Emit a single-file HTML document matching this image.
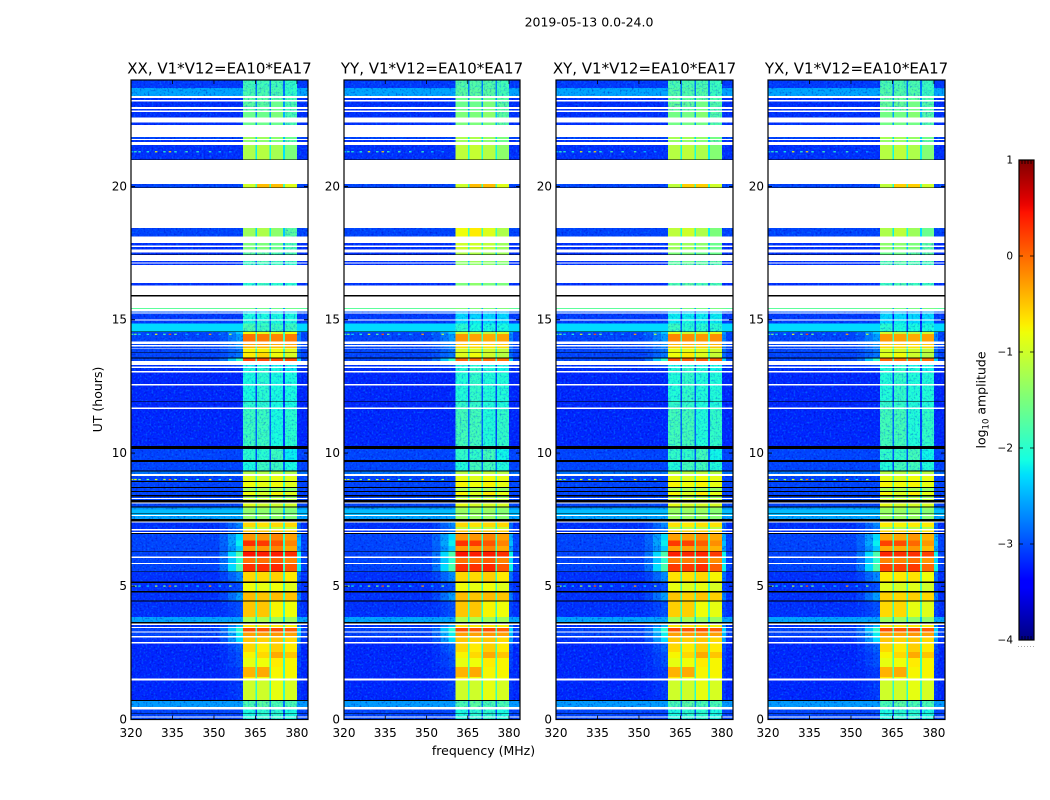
<!DOCTYPE html>
<html lang="en">
<head>
<meta charset="utf-8">
<title>2019-05-13 0.0-24.0</title>
<style>
html,body{margin:0;padding:0;background:#fff;}
#chart{display:block;width:1050px;height:800px;background:#fff;}
text{font-family:"DejaVu Sans","Liberation Sans",sans-serif;fill:#000;}
</style>
</head>
<body>
<svg id="chart" xmlns="http://www.w3.org/2000/svg" width="1050" height="800" viewBox="0 0 1050 800">
  <defs>
    <filter id="speck-light" x="0" y="0" width="100%" height="100%" color-interpolation-filters="sRGB">
      <feTurbulence type="fractalNoise" baseFrequency="0.5" numOctaves="2" seed="4"/>
      <feColorMatrix type="matrix" values="0 0 0 0 0  0 0 0 0 0.55  0 0 0 0 1  3.2 0 0 0 -1.6"/>
    </filter>
    <filter id="speck-dark" x="0" y="0" width="100%" height="100%" color-interpolation-filters="sRGB">
      <feTurbulence type="fractalNoise" baseFrequency="0.5" numOctaves="2" seed="11"/>
      <feColorMatrix type="matrix" values="0 0 0 0 0  0 0 0 0 0  0 0 0 0 0.7  0 3.2 0 0 -1.7"/>
    </filter>
    <linearGradient id="colorbar-gradient" x1="0" y1="1" x2="0" y2="0"></linearGradient>
  </defs>
  <text x="589" y="26.5" font-size="12.5" text-anchor="middle">2019-05-13 0.0-24.0</text>
  <text x="483.5" y="755" font-size="12.5" text-anchor="middle">frequency (MHz)</text>
  <text x="102" y="399.5" font-size="12.5" text-anchor="middle" transform="rotate(-90 102 399.5)">UT (hours)</text>
  <text x="985.5" y="400" font-size="12.5" text-anchor="middle" transform="rotate(-90 985.5 400)">log<tspan font-size="8.5" dy="3">10</tspan><tspan dy="-3"> amplitude</tspan></text>
  <g id="panels"></g>
  <g id="colorbar"></g>
</svg>
<script>
/* ---------- chart data ---------- */
const panelTitles = ["XX, V1*V12=EA10*EA17", "YY, V1*V12=EA10*EA17", "XY, V1*V12=EA10*EA17", "YX, V1*V12=EA10*EA17"];
const xTicks = [320, 335, 350, 365, 380];
const yTicks = [0, 5, 10, 15, 20];
const colorTicks = [1, 0, -1, -2, -3, -4];
const colorMinorTicks = [0.2, 0.4, 0.6, 0.8];

const bandStartMHz = [360.5, 365.6, 370.6, 375.6];
const bandEndMHz = [365.0, 370.0, 375.0, 380.0];
const shoulderStartsMHz = [352, 355, 358];
const shoulderWeights = [0.2, 0.6, 1];
const shoulderAfterMHz = 381.5;
const freqMin = 320;
const freqMax = 384;
const utMin = 0;
const utMax = 24;
const levelMin = -4;
const levelMax = 1;

const W = null;  /* flagged: no data (white) */
const K = -9;    /* below scale (black) */

/* top edge (UT hours) of each time row, descending */
const rowTopUT = [
24.00,23.70,23.40,23.32,23.25,23.19,22.98,22.92,22.85,22.80,22.60,22.40,22.32,21.87,21.79,21.75,21.67,21.56,21.02,21.00,
20.10,19.97,19.95,18.45,18.13,17.88,17.78,17.73,17.63,17.53,17.45,17.43,17.21,17.16,17.12,17.06,16.38,16.28,15.93,15.87,
15.44,15.41,15.31,15.27,15.24,15.02,14.97,14.87,14.56,14.54,14.47,14.18,14.10,14.05,14.00,13.95,13.92,13.78,13.75,13.59,
13.55,13.45,13.30,13.24,13.19,13.08,13.03,12.59,12.54,11.95,11.93,11.70,11.65,10.26,10.15,9.74,9.66,9.34,9.31,9.22,
9.14,8.95,8.91,8.73,8.69,8.58,8.54,8.43,8.37,8.31,8.28,8.24,8.14,8.10,8.00,7.96,7.89,7.74,7.71,7.68,
7.63,7.52,7.44,7.39,7.23,7.14,7.09,7.04,7.00,6.96,6.71,6.51,6.33,6.30,6.11,6.06,5.88,5.84,5.56,5.53,
5.17,5.13,4.82,4.77,4.46,4.42,3.84,3.66,3.61,3.55,3.48,3.44,3.31,3.27,3.13,3.08,2.91,2.86,2.53,2.31,
1.97,1.60,1.53,1.46,0.73,0.69,0.46,0.38,0.23,0.21,0.11,0.07
];

/* per-row log10 amplitude: [background, shoulder, sub-band 1..4] */
const rowLevels = [
[-3.1,-3.1,-1.85,-1.85,-1.85,-1.95],[-2.55,-2.55,-1.8,-1.8,-1.8,-1.95],W,[-3.15,-3.15,-1.7,-1.7,-1.7,-1.8],W,[-3.15,-3.15,-1.7,-1.7,-1.6,-1.8],W,[-3.15,-3.15,-1.7,-1.7,-1.6,-1.8],W,[-3.15,-3.15,-1.6,-1.6,-1.5,-1.8],W,[-3.15,-3.15,-1.6,-1.6,-1.6,-1.8],W,[-3.05,-3.05,-1.3,-1.3,-1.4,-1.6],W,[-3.15,-3.15,-1.4,-1.4,-1.5,-1.7],W,[-3.15,-3.15,-1.2,-1.15,-1.25,-1.5],K,W,
[-3.05,-3.05,-1.0,-0.45,-0.45,-0.9],K,W,[-3.05,-3.05,-1.3,-1.2,-1.4,-1.7],W,[-3.15,-3.15,-1.5,-1.5,-1.6,-1.8],W,[-3.15,-3.15,-1.5,-1.5,-1.6,-1.8],W,[-3.15,-3.15,-1.7,-1.7,-1.8,-1.8],K,W,[-3.15,-3.15,-1.9,-1.8,-1.9,-1.9],W,[-3.15,-3.15,-1.9,-1.9,-1.9,-2.0],W,[-3.15,-3.15,-2.0,-1.9,-2.0,-2.0],W,K,W,
[-1.7,-1.6,-1.6,-1.6,-1.6,-1.6],W,[-2.95,-2.95,-2.3,-2.3,-2.3,-2.3],W,[-3.1,-3.1,-2.1,-2.1,-2.1,-2.1],W,[-3.1,-3.1,-2.1,-2.0,-2.1,-2.1],[-2.3,-2.3,-1.8,-1.9,-1.9,-1.9],K,[-3.05,-2.4,-0.8,-0.9,-0.9,-0.8],[-3.05,-2.6,-0.05,-0.1,-0.15,-0.1],W,[-3.05,-2.7,-0.3,-0.3,-0.35,-0.3],W,[-3.05,-2.7,-0.4,-0.4,-0.45,-0.4],W,[-3.05,-2.8,-0.75,-0.75,-0.8,-0.9],K,[-3.05,-2.8,-0.7,-0.6,-0.8,-0.95],K,
[-3.05,-2.0,0.2,0.15,0.15,0.15],W,[-3.15,-3.0,-2.2,-2.1,-2.2,-2.2],W,[-3.15,-3.15,-2.1,-2.0,-2.1,-2.2],W,[-3.2,-3.2,-2.1,-2.0,-2.1,-2.1],W,[-3.2,-3.2,-2.1,-2.0,-2.1,-2.1],K,[-3.2,-3.2,-2.0,-2.0,-2.1,-2.1],W,[-3.2,-3.2,-1.9,-1.9,-2.1,-2.0],K,[-3.05,-3.05,-2.0,-2.0,-1.9,-2.2],K,[-3.05,-3.05,-2.1,-1.9,-1.9,-2.1],K,[-2.8,-2.8,-1.2,-1.2,-1.15,-1.2],W,
[-3.05,-3.05,-0.9,-0.95,-0.85,-0.9],K,[-3.05,-3.05,-0.8,-0.85,-0.8,-0.9],K,[-3.05,-3.05,-1.3,-1.3,-1.3,-1.4],K,[-3.05,-3.05,-0.8,-0.95,-0.75,-0.9],K,[-3.05,-3.05,-1.3,-1.3,-1.3,-1.4],W,[-3.05,-3.05,-1.0,-1.0,-1.0,-1.1],K,W,[-3.05,-3.05,-0.9,-1.0,-1.0,-1.0],K,[-2.6,-2.6,-1.3,-1.3,-1.3,-1.4],[-2.45,-2.45,-1.4,-1.4,-1.4,-1.5],K,[-2.45,-2.45,-1.4,-1.4,-1.4,-1.5],W,
[-2.55,-2.55,-1.4,-1.4,-1.4,-1.5],K,W,[-3.15,-2.7,-0.6,-0.65,-0.6,-0.6],[-3.15,-2.8,-1.1,-1.1,-1.1,-1.1],W,[-3.15,-2.8,-0.5,-0.5,-0.5,-0.55],W,K,[-3.05,-2.3,-0.25,-0.25,-0.15,-0.3],[-3.05,-2.2,0.3,0.25,0.1,-0.15],[-3.05,-2.4,-0.25,-0.25,-0.15,-0.35],K,[-3.05,-1.8,0.45,0.4,0.4,0.3],W,[-3.05,-2.0,-0.05,-0.05,0.05,-0.15],W,[-3.05,-1.8,0.3,0.3,0.35,0.1],K,[-3.15,-2.7,-0.6,-0.6,-0.55,-0.7],
K,[-3.15,-3.0,-0.8,-0.85,-0.8,-0.9],K,[-3.15,-2.6,-0.45,-0.5,-0.45,-0.5],K,[-3.15,-3.0,-0.5,-0.5,-0.75,-0.8],[-2.55,-2.55,-1.2,-1.2,-1.3,-1.3],K,W,[-3.15,-2.5,-0.7,-0.7,-0.7,-0.75],W,[-3.05,-2.0,0.15,0.1,0.15,0.05],W,[-3.05,-2.2,-0.3,-0.3,-0.25,-0.3],W,[-3.15,-2.3,-0.5,-0.55,-0.5,-0.6],W,[-3.2,-2.9,-0.6,-0.7,-0.55,-0.7],[-3.2,-3.0,-0.75,-0.6,-0.35,-0.5],[-3.2,-3.0,-0.85,-0.8,-0.7,-0.75],
[-3.2,-3.1,-0.4,-0.35,-0.75,-0.75],[-3.2,-3.1,-0.7,-0.8,-0.8,-0.8],W,[-3.2,-3.1,-1.0,-1.0,-0.85,-0.95],K,[-2.6,-2.6,-1.8,-1.7,-1.8,-1.8],W,[-3.05,-3.05,-2.1,-2.0,-2.0,-2.1],K,[-3.05,-3.05,-2.1,-2.0,-2.0,-2.1],W,[-3.05,-3.05,-2.1,-2.0,-2.0,-2.1]
];

/* per-panel band level offsets for time sections */
const sectionTopUT = [24, 21, 18.5, 16, 15.4, 13.4, 7.4, 3.6];
const bandOffsetXX = [0, 0, 0, 0, 0, 0, 0, 0];
const bandOffsetYY = [0.1, 0, 0.5, 0.1, -0.2, 0.05, 0, 0];
const bandOffsetXY = [0.05, -0.1, 0.2, 0.05, -0.1, 0.05, -0.05, 0];
const bandOffsetYX = [0.05, -0.1, 0.1, 0.05, -0.2, 0.05, -0.1, 0];
const panelBandOffsets = [bandOffsetXX, bandOffsetYY, bandOffsetXY, bandOffsetYX];

/* narrow interference spikes */
const spikeUT = [21.31, 14.46, 9.01, 5.01];
const spikeFreqMHz = [320.3, 321.5, 323, 326, 329, 332, 334, 336, 340, 344, 348.5, 352, 355.8];
const spikeLevels = [
[-2.4,-1.9,-2.0,-2.1,-0.8,-2.0,-0.6,-2.0,-1.8,-2.0,-1.9,-2.4,-2.6],
[-1.9,-1.5,-2.3,-2.1,-0.9,-1.8,0.1,-1.6,-2.5,-2.5,-0.3,-2.6,-1.1],
[-1.0,-0.9,-1.5,-1.6,-1.0,-1.3,-0.1,-1.3,-1.9,-2.0,-0.6,-2.4,-1.4],
[-0.9,-1.4,-2.2,-2.4,-1.2,-1.6,0.1,-1.6,-2.4,-2.4,-0.3,-2.4,-1.4]
];

/* ---------- layout ---------- */
const panelLefts = [131, 344, 556, 768];
const panelWidths = [177, 176, 177, 177];
const plotTop = 80;
const plotBottom = 719.5;
const cbLeft = 1019;
const cbRight = 1034;
const cbTop = 160;
const cbBottom = 640;

const SVGNS = "http://www.w3.org/2000/svg";
function make(tag) { return document.createElementNS(SVGNS, tag); }
function setAll(el, props) { for (const k in props) el.setAttribute(k, props[k]); return el; }

function xScale(p, f) { return panelLefts[p] + (f - freqMin) / (freqMax - freqMin) * panelWidths[p]; }
function yScale(u) { return plotBottom - (u - utMin) / (utMax - utMin) * (plotBottom - plotTop); }
function cbScale(v) { return cbBottom - (v - levelMin) / (levelMax - levelMin) * (cbBottom - cbTop); }

function jetChannel(t, a, b, c, d) {
  if (t < a) return 0;
  if (t < b) return (t - a) / (b - a);
  if (t < c) return 1;
  if (t < d) return 1 - (t - c) / (d - c);
  return 0;
}
function jetColor(v) {
  const t = Math.max(0, Math.min(1, (v - levelMin) / (levelMax - levelMin)));
  const r = t > 0.89 ? 1 - (t - 0.89) / 0.11 * 0.5 : jetChannel(t, 0.35, 0.66, 2, 3);
  const g = jetChannel(t, 0.125, 0.375, 0.64, 0.91);
  const b = t < 0.11 ? 0.5 + t / 0.11 * 0.5 : jetChannel(t, -1, 0, 0.34, 0.65);
  return "rgb(" + Math.round(r * 255) + "," + Math.round(g * 255) + "," + Math.round(b * 255) + ")";
}

function sectionIndex(ut) {
  let idx = 0;
  for (let i = 0; i < sectionTopUT.length; i++) if (ut <= sectionTopUT[i]) idx = i;
  return idx;
}

function addCell(parent, clip, limit, p, f0, f1, y0, y1, level) {
  const x0 = xScale(p, f0), x1 = xScale(p, f1);
  const cell = make("rect");
  setAll(cell, { x: x0, y: y0, width: x1 - x0, height: y1 - y0, fill: jetColor(level) });
  
  
  parent.appendChild(cell);
  if (level < limit) {
    const c = make("rect");
    setAll(c, { x: x0, y: y0, width: x1 - x0, height: y1 - y0 });
    clip.appendChild(c);
  }
}

function addNoise(g, p, clipId, lightOpacity, darkOpacity) {
  const noise = make("g");
  
  
  noise.setAttribute('clip-path', 'url(#' + clipId + ')');
  g.appendChild(noise);
  const light = make("rect");
  setAll(light, { x: panelLefts[p], y: plotTop, width: panelWidths[p], height: plotBottom - plotTop, filter: "url(#speck-light)", fill: "#000", opacity: lightOpacity });
  noise.appendChild(light);
  const dark = make("rect");
  setAll(dark, { x: panelLefts[p], y: plotTop, width: panelWidths[p], height: plotBottom - plotTop, filter: "url(#speck-dark)", fill: "#000", opacity: darkOpacity });
  noise.appendChild(dark);
}

function drawPanel(p) {
  const root = document.getElementById("panels");
  const g = make("g");
  
  
  root.appendChild(g);

  const cells = make("g");
  
  
  cells.setAttribute('shape-rendering', 'crispEdges');
  g.appendChild(cells);

  const defs = document.querySelector("defs");
  const clipBg = make("clipPath");
  clipBg.setAttribute("id", "noise-bg-" + p);
  defs.appendChild(clipBg);
  const clipBand = make("clipPath");
  clipBand.setAttribute("id", "noise-band-" + p);
  defs.appendChild(clipBand);

  const flagged = [];
  for (let i = 0; i < rowTopUT.length; i++) {
    const top = rowTopUT[i];
    const bottom = i + 1 < rowTopUT.length ? rowTopUT[i + 1] : utMin;
    const lv = rowLevels[i];
    const y0 = yScale(top), y1 = yScale(bottom);
    if (lv === W || lv === K) { flagged.push([y0, y1, lv]); continue; }
    const off = panelBandOffsets[p][sectionIndex(top)];
    const bg = lv[0], sh = lv[1];
    addCell(cells, clipBg, -2.5, p, freqMin, shoulderStartsMHz[0], y0, y1, bg);
    for (let s = 0; s < shoulderStartsMHz.length; s++) {
      const end = s + 1 < shoulderStartsMHz.length ? shoulderStartsMHz[s + 1] : bandStartMHz[0];
      addCell(cells, clipBg, -2.5, p, shoulderStartsMHz[s], end, y0, y1, bg + shoulderWeights[s] * (sh - bg));
    }
    for (let b = 0; b < bandStartMHz.length; b++) {
      const level = lv[b + 2] + off;
      addCell(cells, clipBand, -1.6, p, bandStartMHz[b], bandEndMHz[b], y0, y1, level);
      if (b < bandStartMHz.length - 1) {
        addCell(cells, clipBand, -2.5, p, bandEndMHz[b], bandStartMHz[b + 1], y0, y1, Math.min(-1.9, level - 1));
      }
    }
    addCell(cells, clipBg, -2.5, p, bandEndMHz[3], shoulderAfterMHz, y0, y1, bg + 0.7 * (sh - bg));
    addCell(cells, clipBg, -2.5, p, shoulderAfterMHz, freqMax, y0, y1, bg);
  }

  addNoise(g, p, "noise-bg-" + p, 0.55, 0.5);
  addNoise(g, p, "noise-band-" + p, 0.5, 0.3);

  for (let s = 0; s < spikeUT.length; s++) {
    for (let f = 0; f < spikeFreqMHz.length; f++) {
      const spike = make("rect");
      setAll(spike, { x: xScale(p, spikeFreqMHz[f]) - 1, y: yScale(spikeUT[s]) - 0.5, width: 2.5, height: 1.2, fill: jetColor(spikeLevels[s][f]) });
      
      
      g.appendChild(spike);
    }
  }

  for (const r of flagged) {
    const gap = make("rect");
    setAll(gap, { x: panelLefts[p], y: r[0], width: panelWidths[p], height: r[1] - r[0], fill: r[2] === W ? "#fff" : "#000", "shape-rendering": "crispEdges" });
    
    
    g.appendChild(gap);
  }

  const frame = make("rect");
  setAll(frame, { x: panelLefts[p], y: plotTop, width: panelWidths[p], height: plotBottom - plotTop, fill: "none", stroke: "#000", "stroke-width": 1.2 });
  
  
  g.appendChild(frame);

  for (const t of xTicks) {
    const x = xScale(p, t);
    const tick = make("path");
    setAll(tick, { d: "M" + x + " " + plotBottom + "v-4M" + x + " " + plotTop + "v4", stroke: "#000", "stroke-width": 0.8, fill: "none" });
    
    
    g.appendChild(tick);
    const lab = make("text");
    setAll(lab, { x: x, y: 737, "font-size": 12, "text-anchor": "middle" });
    lab.textContent = t;
    
    
    g.appendChild(lab);
  }
  for (const t of yTicks) {
    const y = yScale(t);
    const right = panelLefts[p] + panelWidths[p];
    const tick = make("path");
    setAll(tick, { d: "M" + panelLefts[p] + " " + y + "h4M" + right + " " + y + "h-4", stroke: "#000", "stroke-width": 0.8, fill: "none" });
    
    
    g.appendChild(tick);
    const lab = make("text");
    setAll(lab, { x: panelLefts[p] - 4, y: y + 3.8, "font-size": 12, "text-anchor": "end" });
    lab.textContent = t;
    
    
    g.appendChild(lab);
  }

  const title = make("text");
  setAll(title, { x: panelLefts[p] + panelWidths[p] / 2, y: 73.5, "font-size": 15, "text-anchor": "middle" });
  title.textContent = panelTitles[p];
  
  
  g.appendChild(title);
}

function drawColorbar() {
  const grad = document.getElementById("colorbar-gradient");
  for (let i = 0; i <= 64; i++) {
    const stop = make("stop");
    setAll(stop, { offset: (i / 64), "stop-color": jetColor(levelMin + (levelMax - levelMin) * i / 64) });
    grad.appendChild(stop);
  }
  const g = document.getElementById("colorbar");
  const bar = make("rect");
  setAll(bar, { x: cbLeft, y: cbTop, width: cbRight - cbLeft, height: cbBottom - cbTop, fill: "url(#colorbar-gradient)", stroke: "#000", "stroke-width": 1.2 });
  
  
  g.appendChild(bar);

  for (const t of colorTicks) {
    const y = cbScale(t);
    const tick = make("path");
    setAll(tick, { d: "M" + cbLeft + " " + y + "h4M" + cbRight + " " + y + "h-4", stroke: "#000", "stroke-width": 0.8, fill: "none" });
    
    
    g.appendChild(tick);
    const lab = make("text");
    setAll(lab, { x: 1013, y: y + 3.5, "font-size": 10.5, "text-anchor": "end" });
    lab.textContent = t < 0 ? "\u2212" + (-t) : String(t);
    
    
    g.appendChild(lab);
  }
  for (const m of colorMinorTicks) {
    const x = cbLeft + m * (cbRight - cbLeft);
    const tick = make("path");
    setAll(tick, { d: "M" + x + " " + cbBottom + "v-4M" + x + " " + cbTop + "v4", stroke: "#000", "stroke-width": 0.8, fill: "none" });
    
    
    g.appendChild(tick);
  }
  const dots = make("path");
  setAll(dots, { d: "M1018 646.5H1035", stroke: "#aaa", "stroke-width": 1, "stroke-dasharray": "1 2", fill: "none" });
  
  
  g.appendChild(dots);
}

for (let p = 0; p < panelTitles.length; p++) drawPanel(p);
drawColorbar();
</script>
</body>
</html>
